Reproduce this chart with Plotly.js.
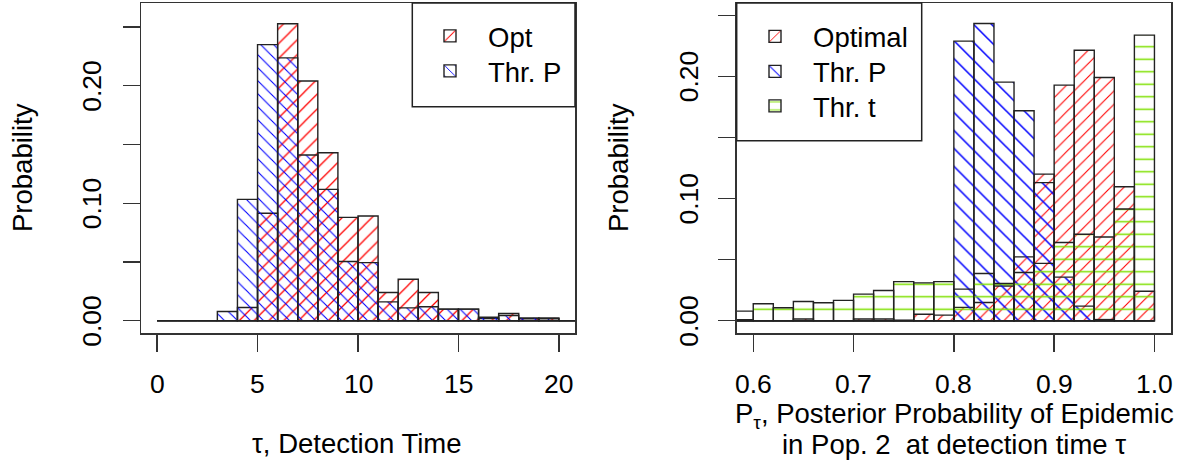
<!DOCTYPE html>
<html><head><meta charset="utf-8">
<script src="https://cdn.plot.ly/plotly-3.0.1.min.js"></script>
<style>html,body{margin:0;padding:0;background:#fff}#chart{width:1191px;height:469px}</style>
</head><body><div id="chart"></div>
<script>
// ---------- Left panel: detection time tau (bins of width 1, start values) ----------
const tauBinStart = [0,1,2,3,4,5,6,7,8,9,10,11,12,13,14,15,16,17,18,19,20];
const tauBinWidth = 1;
const tauOpt  = [0,0,0,0,0.0113,0.0915,0.2528,0.2040,0.1430,0.0880,0.0892,0.0241,0.0354,0.0241,0.0099,0.0099,0.0020,0.0062,0.0017,0.0025,0];
const tauThrP = [0,0,0,0.0079,0.1033,0.2350,0.2237,0.1410,0.1118,0.0504,0.0495,0.0161,0.0110,0.0119,0.0099,0.0099,0.0030,0.0045,0.0025,0.0017,0];

// ---------- Right panel: posterior probability P_tau (bins of width 0.02, start values) ----------
const postBinStart = [0.58,0.60,0.62,0.64,0.66,0.68,0.70,0.72,0.74,0.76,0.78,0.80,0.82,0.84,0.86,0.88,0.90,0.92,0.94,0.96,0.98];
const postBinWidth = 0.02;
const postOptimal = [0.0008,0,0,0.0014,0,0,0.0014,0.0014,0.0005,0.0054,0.0046,0.0110,0.0150,0.0285,0.0523,0.1200,0.1928,0.2214,0.1990,0.1097,0.0242];
const postThrP    = [0,0,0,0,0,0,0,0,0,0,0,0.2288,0.2432,0.1953,0.1718,0.1130,0.0357,0.0120,0.0010,0,0];
const postThrT    = [0.0079,0.0139,0.0107,0.0158,0.0148,0.0167,0.0218,0.0248,0.0320,0.0310,0.0320,0.0259,0.0387,0.0305,0.0395,0.0470,0.0640,0.0708,0.0686,0.0915,0.2337];

// ---------- Ticks ----------
const tauTickVals  = [0,5,10,15,20];
const tauTickText  = ['0','5','10','15','20'];
const postTickVals = [0.6,0.7,0.8,0.9,1.0];
const postTickText = ['0.6','0.7','0.8','0.9','1.0'];
const probTickVals = [0,0.10,0.20];
const probTickText = ['0.00','0.10','0.20'];
const probMinorTickVals = [0.05,0.15,0.25];

const RED = '#ff0000', BLUE = '#0000ff', GREEN = '#7ee000';
const FONT = {family:'Liberation Sans, Arial, Helvetica, sans-serif', size:27.5, color:'#000'};
const TICKFONT = {family:'Liberation Sans, Arial, Helvetica, sans-serif', size:26.5, color:'#000'};
const EDGE = '#222';

function hatchBar(xs, ys, w, color, shape, size, name, xa, ya, legend) {
  return {
    type:'bar', x:xs, y:ys, width:w, offset:0, name:name, xaxis:xa, yaxis:ya, legend:legend,
    marker:{color:'rgba(0,0,0,0)', line:{color:EDGE, width:1.4},
      pattern:{shape:shape, size:size, solidity:0.12, fgcolor:color, fillmode:'replace'}},
    hoverinfo:'skip'
  };
}
function baseline(starts, w, xa, ya) {
  return {type:'scatter', mode:'lines', x:[starts[0], starts[starts.length-1] + w], y:[0,0],
    xaxis:xa, yaxis:ya, line:{color:EDGE, width:1.4}, showlegend:false, hoverinfo:'skip'};
}

const data = [
  baseline(tauBinStart, tauBinWidth, 'x', 'y'),
  hatchBar(tauBinStart, tauOpt,  tauBinWidth, RED,  '/',  10.5, 'Opt',    'x', 'y', 'legend'),
  hatchBar(tauBinStart, tauThrP, tauBinWidth, BLUE, '\\', 9.2,  'Thr. P', 'x', 'y', 'legend2'),
  baseline(postBinStart, postBinWidth, 'x2', 'y2'),
  hatchBar(postBinStart, postOptimal, postBinWidth, RED,   '/',  9.4,  'Optimal', 'x2', 'y2', 'legend3'),
  hatchBar(postBinStart, postThrP,    postBinWidth, BLUE,  '\\', 12.7, 'Thr. P',  'x2', 'y2', 'legend4'),
  hatchBar(postBinStart, postThrT,    postBinWidth, GREEN, '-',  12.5, 'Thr. t',  'x2', 'y2', 'legend5')
];

const yDom = [1 - 333/469, 1 - 3/469];
const minorTicks = {tickvals:probMinorTickVals, ticks:'outside', ticklen:17, tickwidth:1.4, tickcolor:'#333', showgrid:false};
const axCommon = {
  ticks:'outside', ticklen:17, tickwidth:1.4, tickcolor:'#333', showticklabels:false,
  showline:true, mirror:true, linecolor:'#333', linewidth:1.5,
  showgrid:false, zeroline:false, tickfont:FONT, fixedrange:true
};
function legendAt(xpx, ypx) {
  return {x:xpx/1191, y:1 - ypx/469, xanchor:'left', yanchor:'middle', bgcolor:'rgba(0,0,0,0)',
    borderwidth:0, font:FONT, itemwidth:66};
}

// tick labels placed through the axes' own scales (x or y in data units)
const annotations = [];
function xLabels(vals, texts, xref) {
  vals.forEach((v, i) => annotations.push({text:texts[i], xref:xref, yref:'paper', x:v, y:1 - 384/469,
    xanchor:'center', yanchor:'middle', showarrow:false, font:TICKFONT}));
}
function yLabels(vals, texts, yref, xpx) {
  vals.forEach((v, i) => annotations.push({text:texts[i], xref:'paper', yref:yref, x:xpx/1191, y:v,
    textangle:-90, xanchor:'center', yanchor:'middle', showarrow:false, font:TICKFONT}));
}
xLabels(tauTickVals, tauTickText, 'x');
xLabels(postTickVals, postTickText, 'x2');
yLabels(probTickVals, probTickText, 'y', 92);
yLabels(probTickVals, probTickText, 'y2', 689);

annotations.push(
  {text:'τ, Detection Time', xref:'paper', yref:'paper', x:357/1191, y:1-443/469,
    xanchor:'center', yanchor:'middle', showarrow:false, font:FONT},
  {text:'Probability', xref:'paper', yref:'paper', x:23/1191, y:1-168/469, textangle:-90,
    xanchor:'center', yanchor:'middle', showarrow:false, font:FONT},
  {text:'Probability', xref:'paper', yref:'paper', x:619/1191, y:1-168/469, textangle:-90,
    xanchor:'center', yanchor:'middle', showarrow:false, font:FONT},
  {text:'P<sub>τ</sub>, Posterior Probability of Epidemic', xref:'paper', yref:'paper', x:954/1191, y:1-415/469,
    xanchor:'center', yanchor:'middle', showarrow:false, font:FONT},
  {text:'in Pop. 2\u00a0 at detection time τ', xref:'paper', yref:'paper', x:954/1191, y:1-444/469,
    xanchor:'center', yanchor:'middle', showarrow:false, font:FONT}
);

const layout = {
  width:1191, height:469, margin:{l:0,r:0,t:0,b:0},
  paper_bgcolor:'#fff', plot_bgcolor:'rgba(0,0,0,0)',
  barmode:'overlay', bargap:0, font:FONT, showlegend:true,
  xaxis: Object.assign({}, axCommon, {domain:[141/1191, 575/1191], range:[-0.8, 20.8],
    tickvals:tauTickVals, anchor:'y'}),
  yaxis: Object.assign({}, axCommon, {domain:yDom, range:[-0.0104, 0.2704],
    tickvals:probTickVals, anchor:'x', minor:minorTicks}),
  xaxis2: Object.assign({}, axCommon, {domain:[736.7/1191, 1171/1191], range:[0.5835, 1.0165],
    tickvals:postTickVals, anchor:'y2'}),
  yaxis2: Object.assign({}, axCommon, {domain:yDom, range:[-0.0100, 0.2600],
    tickvals:probTickVals, anchor:'x2', minor:minorTicks}),
  legend:  legendAt(412, 36),
  legend2: legendAt(412, 71),
  legend3: legendAt(737, 36.5),
  legend4: legendAt(737, 71.5),
  legend5: legendAt(737, 106),
  shapes: [
    {type:'rect', xref:'paper', yref:'paper', x0:412.3/1191, x1:575/1191, y0:1-106.7/469, y1:1-3/469,
      line:{color:'#222', width:1.5}, fillcolor:'rgba(0,0,0,0)', layer:'above'},
    {type:'rect', xref:'paper', yref:'paper', x0:736.7/1191, x1:921.7/1191, y0:1-140.7/469, y1:1-3/469,
      line:{color:'#222', width:1.5}, fillcolor:'rgba(0,0,0,0)', layer:'above'}
  ],
  annotations: annotations
};

Plotly.newPlot('chart', data, layout, {staticPlot:true, displayModeBar:false});
</script>
</body></html>
